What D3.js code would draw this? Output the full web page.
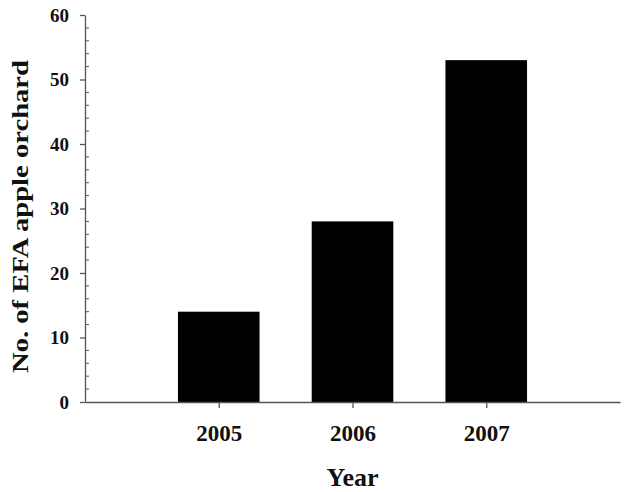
<!DOCTYPE html>
<html>
<head>
<meta charset="utf-8">
<script src="https://cdn.jsdelivr.net/npm/d3@7"></script>
<style>
  html, body { margin:0; padding:0; background:#fff; }
  svg text { font-family: "Liberation Serif", "Times New Roman", serif; font-weight: bold; fill:#111; }
</style>
</head>
<body>
<svg id="chart" width="635" height="492"></svg>
<script>
// data
const years = ["2005", "2006", "2007"];
const orchards = [14, 28, 53];
const yTicks = [0, 10, 20, 30, 40, 50, 60];

const W = 635, H = 492;
const m = {l:85, r:15, t:15, b:90};
const svg = d3.select("#chart");

// x positions: slots 1..3 on a 0..4 line
const x = d3.scaleLinear().domain([0, years.length + 1]).range([m.l, W - m.r]);
const y = d3.scaleLinear().domain([0, 60]).range([H - m.b, m.t]);
const barW = (x(1) - x(0)) * 0.61;

svg.selectAll("rect.bar")
  .data(years.map((yr, i) => ({yr, v: orchards[i], i})))
  .enter().append("rect")
  .attr("class", "bar")
  .attr("x", d => x(d.i + 1) - barW / 2)
  .attr("y", d => y(d.v))
  .attr("width", barW)
  .attr("height", d => y(0) - y(d.v))
  .attr("fill", "#000");

// y axis: major ticks outside, minor ticks inside
const gy = svg.append("g").attr("transform", `translate(${m.l},0)`);
gy.call(d3.axisLeft(y).tickValues(yTicks).tickSize(5).tickPadding(11).tickSizeOuter(0))
  .selectAll("text").attr("font-size", 19);
const minor = d3.range(0, 61, 2).filter(v => v % 10 !== 0);
gy.selectAll("line.minor")
  .data(minor)
  .enter().append("line")
  .attr("class", "minor")
  .attr("x1", 0).attr("x2", 4)
  .attr("y1", d => y(d)).attr("y2", d => y(d))
  .attr("stroke", "#555");

// x axis
const gx = svg.append("g").attr("transform", `translate(0,${H - m.b})`);
gx.call(d3.axisBottom(x).tickValues([1, 2, 3]).tickFormat(d => years[d - 1])
    .tickSize(6).tickPadding(17).tickSizeOuter(0))
  .selectAll("text").attr("font-size", 23);

svg.selectAll(".domain, .tick line").attr("stroke", "#555").attr("stroke-width", 1.3);
svg.selectAll(".tick text").attr("fill", "#111");

// axis titles
svg.append("text")
  .attr("x", x(2)).attr("y", 486)
  .attr("text-anchor", "middle")
  .attr("font-size", 26)
  .text("Year");

svg.append("text")
  .attr("transform", `translate(28,${(y(0) + y(60)) / 2 + 8}) rotate(-90)`)
  .attr("text-anchor", "middle")
  .attr("font-size", 23)
  .attr("textLength", 313)
  .attr("lengthAdjust", "spacingAndGlyphs")
  .text("No. of EFA apple orchard");
</script>
</body>
</html>
